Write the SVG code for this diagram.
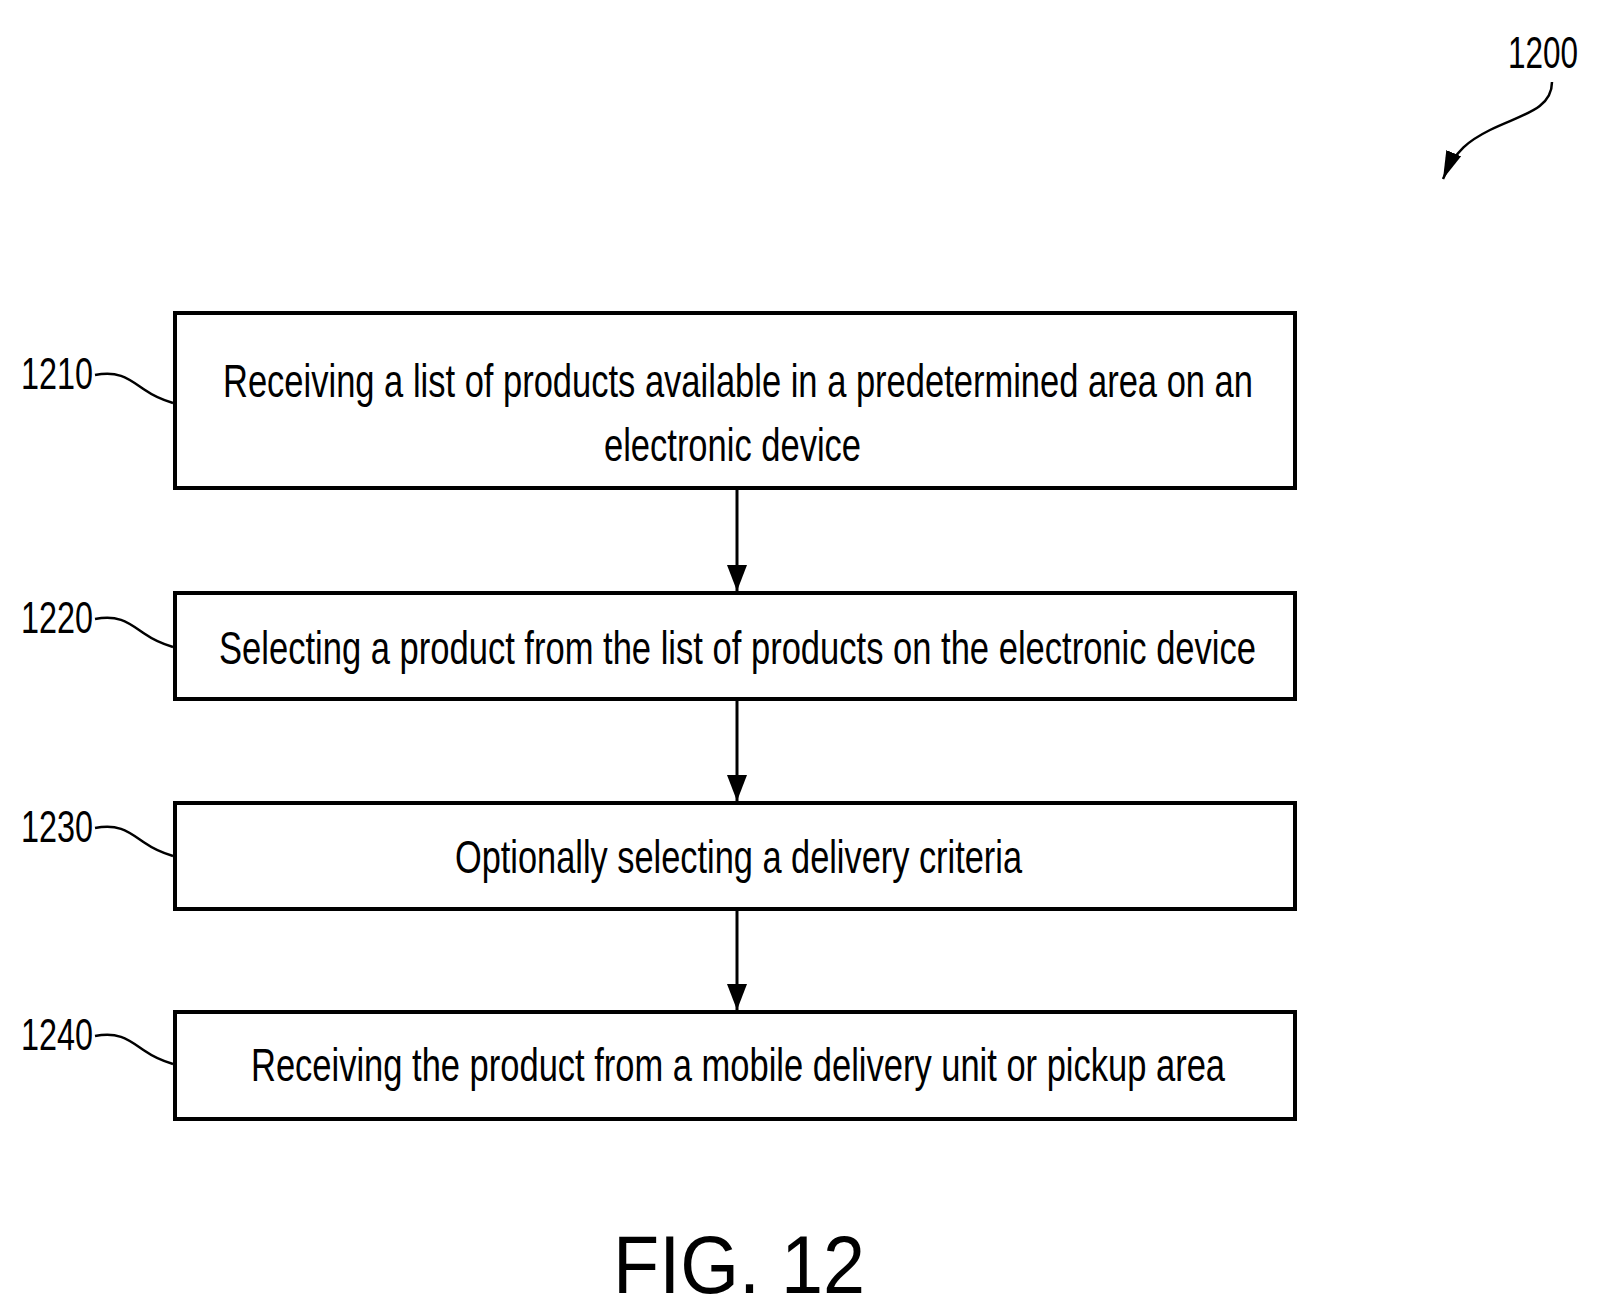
<svg xmlns="http://www.w3.org/2000/svg" width="1608" height="1310" viewBox="0 0 1608 1310">
<style>
.box{fill:#fff;stroke:#000;stroke-width:4}
.t{font-family:"Liberation Sans",Arial,sans-serif;font-size:46px;fill:#000}
.lbl{font-family:"Liberation Sans",Arial,sans-serif;font-size:44px;fill:#000}
.ln{fill:none;stroke:#000;stroke-width:2.5}
.ar{stroke:#000;stroke-width:3;marker-end:url(#ah)}
</style>
<defs>
<marker id="ah" markerWidth="26" markerHeight="24" refX="26" refY="12" orient="auto" markerUnits="userSpaceOnUse" viewBox="0 0 26 24"><path d="M0,2 L26,12 L0,22 Z" fill="#000"/></marker>
<marker id="ah2" markerWidth="30" markerHeight="20" refX="28" refY="10" orient="auto" markerUnits="userSpaceOnUse" viewBox="0 0 30 20"><path d="M0,2 L28,10 L0,18 Z" fill="#000"/></marker>
</defs>
<rect width="1608" height="1310" fill="#fff"/>
<g id="n1210"><rect class="box" x="175" y="313" width="1120" height="175"/>
<text class="t" x="223" y="397" textLength="1030" lengthAdjust="spacingAndGlyphs">Receiving a list of products available in a predetermined area on an</text>
<text class="t" x="604" y="461" textLength="257" lengthAdjust="spacingAndGlyphs">electronic device</text>
<text class="lbl" x="21" y="389" textLength="72" lengthAdjust="spacingAndGlyphs">1210</text></g>
<g id="n1220"><rect class="box" x="175" y="593" width="1120" height="106"/>
<text class="t" x="219" y="664" textLength="1037" lengthAdjust="spacingAndGlyphs">Selecting a product from the list of products on the electronic device</text>
<text class="lbl" x="21" y="633" textLength="72" lengthAdjust="spacingAndGlyphs">1220</text></g>
<g id="n1230"><rect class="box" x="175" y="803" width="1120" height="106"/>
<text class="t" x="455" y="873" textLength="567" lengthAdjust="spacingAndGlyphs">Optionally selecting a delivery criteria</text>
<text class="lbl" x="21" y="842" textLength="72" lengthAdjust="spacingAndGlyphs">1230</text></g>
<g id="n1240"><rect class="box" x="175" y="1012" width="1120" height="107"/>
<text class="t" x="251" y="1081" textLength="974" lengthAdjust="spacingAndGlyphs">Receiving the product from a mobile delivery unit or pickup area</text>
<text class="lbl" x="21" y="1050" textLength="72" lengthAdjust="spacingAndGlyphs">1240</text></g>
<g id="n1200"><text class="lbl" x="1508" y="68" textLength="70" lengthAdjust="spacingAndGlyphs">1200</text></g>
<text x="613" y="1293" font-family="Liberation Sans,Arial,sans-serif" font-size="82" textLength="252" lengthAdjust="spacingAndGlyphs">FIG. 12</text>
<g id="connectors">
<line class="ar" x1="737" y1="489" x2="737" y2="591"/>
<line class="ar" x1="737" y1="700" x2="737" y2="801"/>
<line class="ar" x1="737" y1="910" x2="737" y2="1010"/>
<path class="ln" d="M95,375 C120,370 130,380 145,390 C155,397 163,400 173,403"/>
<path class="ln" d="M95,619 C120,614 130,624 145,634 C155,641 163,644 173,647"/>
<path class="ln" d="M95,828 C120,823 130,833 145,843 C155,850 163,853 173,856"/>
<path class="ln" d="M95,1036 C120,1031 130,1041 145,1051 C155,1058 163,1061 173,1064"/>
<path class="ln" d="M1552,82 C1552,110 1520,115 1490,130 C1470,140 1455,150 1443,179" marker-end="url(#ah2)"/>
</g>
</svg>
